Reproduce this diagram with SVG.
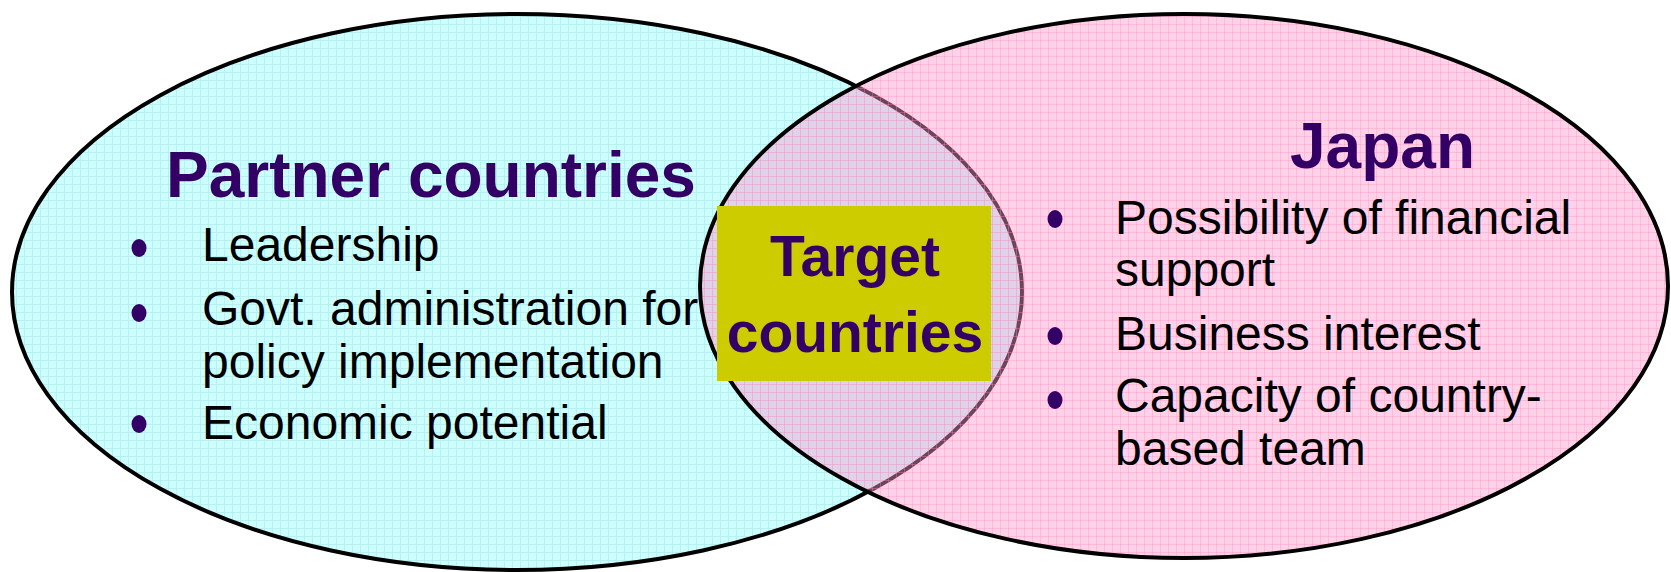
<svg xmlns="http://www.w3.org/2000/svg" width="1671" height="572" viewBox="0 0 1671 572">
<style>
.title{font-family:"Liberation Sans",Arial,sans-serif;font-weight:bold;font-size:64px;fill:#330066}
.item{font-family:"Liberation Sans",Arial,sans-serif;font-size:48px;fill:#000}
.bullet{fill:#330066}
.tgt{font-family:"Liberation Sans",Arial,sans-serif;font-weight:bold;font-size:57px;fill:#330066;text-anchor:middle}
</style>
<defs>
<pattern id="cyanGrid" width="8" height="8" patternUnits="userSpaceOnUse">
<rect width="8" height="8" fill="#ccffff"/>
<path d="M0 0.5H8M0.5 0V8" stroke="#b8f0f0" stroke-width="1" fill="none"/>
</pattern>
<pattern id="pinkGrid" width="8" height="8" patternUnits="userSpaceOnUse">
<rect width="8" height="8" fill="#ff99cc" fill-opacity="0.44"/>
<path d="M0 0.5H8M0.5 0V8" stroke="#ff88c0" stroke-opacity="0.35" stroke-width="1" fill="none"/>
</pattern>
</defs>
<rect width="1671" height="572" fill="#ffffff"/>
<g id="partner">
<ellipse cx="517" cy="292" rx="505" ry="278" fill="url(#cyanGrid)" stroke="#000" stroke-width="4"/>
</g>
<g id="japan">
<ellipse cx="1184" cy="286" rx="484" ry="272" fill="url(#pinkGrid)" stroke="#000" stroke-width="4"/>
</g>
<g id="partner-text">
<text class="title" x="166" y="197">Partner countries</text>
<ellipse class="bullet" cx="139" cy="248" rx="7.5" ry="9"/>
<text class="item" x="202" y="261">Leadership</text>
<ellipse class="bullet" cx="139" cy="313" rx="7.5" ry="9"/>
<text class="item" x="202" y="325">Govt. administration for</text>
<text class="item" x="202" y="378">policy implementation</text>
<ellipse class="bullet" cx="139" cy="424" rx="7.5" ry="9"/>
<text class="item" x="202" y="439">Economic potential</text>
</g>
<g id="japan-text">
<text class="title" x="1290" y="168">Japan</text>
<ellipse class="bullet" cx="1055" cy="219" rx="7.5" ry="9"/>
<text class="item" x="1115" y="234">Possibility of financial</text>
<text class="item" x="1115" y="286">support</text>
<ellipse class="bullet" cx="1055" cy="336" rx="7.5" ry="9"/>
<text class="item" x="1115" y="350">Business interest</text>
<ellipse class="bullet" cx="1055" cy="400" rx="7.5" ry="9"/>
<text class="item" x="1115" y="412">Capacity of country-</text>
<text class="item" x="1115" y="465">based team</text>
</g>
<g id="target">
<rect x="717" y="206" width="274" height="175" fill="#cccc00"/>
<text class="tgt" x="855" y="276">Target</text>
<text class="tgt" x="855" y="352">countries</text>
</g>
<g id="connectors"></g>
</svg>
